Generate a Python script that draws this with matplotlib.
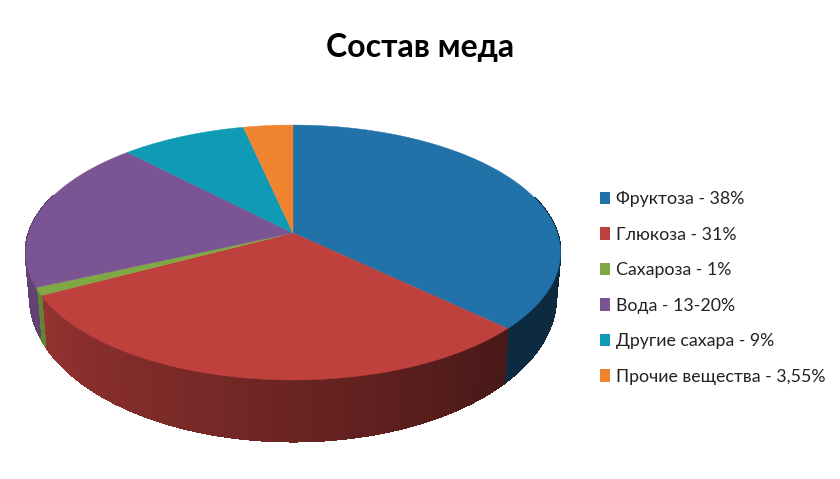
import numpy as np
import matplotlib
matplotlib.use('Agg')
import matplotlib.pyplot as plt
from matplotlib.collections import PolyCollection
from matplotlib.patches import Patch

plt.rcParams['font.family'] = ['Lato', 'Open Sans', 'DejaVu Sans']

title = 'Состав меда'
names = ['Фруктоза - 38%', 'Глюкоза - 31%', 'Сахароза - 1%', 'Вода - 13-20%',
         'Другие сахара - 9%', 'Прочие вещества - 3,55%']
values = [38, 31, 1, 20, 9, 3.55]
colors = ['#2272AA', '#BE413E', '#7FA845', '#7B5493', '#0F9BB5', '#F0842E']

# perspective of the disc, in pixels of the picture
cx, cy = 293, 233
k = 0.153
top_a, top_b = 264.3, 124.5
bot_a, bot_b, bot_dy = 260, 141, 42


def project(theta, r, a, b, dy=0):
    # theta clockwise from 12 o'clock
    u = r * np.sin(theta)
    v = -r * np.cos(theta)
    w = 1 - k * v
    return cx + a * u / w, cy + dy + b * v / w


def shade(theta):
    # side wall gets darker towards lower right
    deg = np.degrees(theta)
    return np.interp(deg, [90, 135, 190, 242, 290], [0.36, 0.38, 0.60, 0.78, 0.80])


fig = plt.figure(figsize=(8.4, 4.79), dpi=100)
ax = fig.add_axes([0, 0, 1, 1])
ax.set_xlim(0, 840)
ax.set_ylim(479, 0)
ax.axis('off')

edges = np.cumsum([0] + values) / sum(values) * 2 * np.pi

# side wall first
for i in range(len(values)):
    th = np.linspace(edges[i], edges[i + 1], max(3, int(np.degrees(edges[i + 1] - edges[i])) + 2))
    x1, y1 = project(th, 1, top_a, top_b)
    x2, y2 = project(th, 1, bot_a, bot_b, bot_dy)
    quads = []
    cols = []
    base = np.array(matplotlib.colors.to_rgb(colors[i]))
    for j in range(len(th) - 1):
        if np.cos(th[j]) > 0.3:   # hidden behind the top
            continue
        quads.append([(x1[j], y1[j]), (x1[j + 1], y1[j + 1]), (x2[j + 1], y2[j + 1]), (x2[j], y2[j])])
        cols.append(base * shade((th[j] + th[j + 1]) / 2))
    if quads:
        ax.add_collection(PolyCollection(quads, facecolors=cols, edgecolors=cols, linewidths=0.8,
                                         antialiaseds=False))

# top face
for i in range(len(values)):
    th = np.linspace(edges[i], edges[i + 1], 200)
    x, y = project(th, 1, top_a, top_b)
    ax.fill(np.r_[cx, x], np.r_[cy, y], color=colors[i], lw=0.3)

ax.text(420, 47, title, ha='center', va='center', fontsize=23, fontweight='bold', color='black')

handles = [Patch(facecolor=c, edgecolor='none') for c in colors]
ax.legend(handles, names, loc='center left', bbox_to_anchor=(600 / 840, 1 - 288 / 479),
          frameon=False, fontsize=12.8, labelspacing=1.1, handlelength=0.56, handleheight=0.7,
          handletextpad=0.35, borderpad=0, borderaxespad=0, labelcolor='#222222')

fig.savefig('out.png', dpi=100)
